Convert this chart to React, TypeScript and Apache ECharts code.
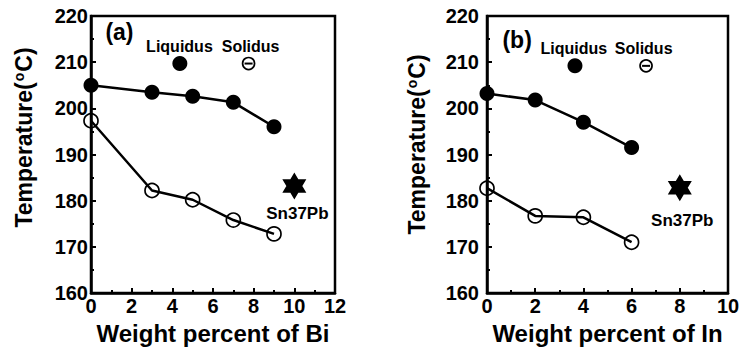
import React, { useEffect, useRef } from "react";
import * as echarts from "echarts";

// Panel (a): Bi
const biX = [0, 3, 5, 7, 9];
const biLiquidus = [205, 203.5, 202.6, 201.3, 196];
const biSolidus = [197.3, 182.2, 180.2, 175.8, 172.8];
const biStar = [10, 183.2];
// Panel (b): In
const inX = [0, 2, 4, 6];
const inLiquidus = [203.2, 201.8, 197, 191.5];
const inSolidus = [182.7, 176.7, 176.4, 171];
const inStar = [8, 182.8];

// annotation anchors (data coords)
const annotA = {
  tag: [1.4, 216.6],
  liqText: [4.35, 213.4],
  solText: [7.85, 213.4],
  liqMark: [4.37, 209.7],
  solMark: [7.75, 209.7],
  pbText: [10.15, 177.2],
};
const annotB = {
  tag: [1.25, 214.9],
  liqText: [3.6, 213.0],
  solText: [6.5, 213.0],
  liqMark: [3.65, 209.2],
  solMark: [6.6, 209.2],
  pbText: [8.1, 175.8],
};

const FONT = "'Liberation Sans', Arial, Helvetica, sans-serif";
const STAR =
  "path://M0,-10 L8.66,5 L-8.66,5 Z M0,10 L-8.66,-5 L8.66,-5 Z";

function xAxis(gridIndex: number, max: number, name: string) {
  return {
    type: "value",
    gridIndex,
    min: 0,
    max,
    interval: 2,
    name,
    nameLocation: "middle",
    nameGap: 28,
    nameTextStyle: { fontSize: 24, fontWeight: "bold", color: "#000", fontFamily: FONT },
    axisLine: { show: true, lineStyle: { color: "#000", width: 2.5 } },
    axisTick: { show: true, inside: true, length: 5, lineStyle: { color: "#000", width: 2 } },
    minorTick: { show: true, splitNumber: 2, length: 3, lineStyle: { color: "#000", width: 2 } },
    splitLine: { show: false },
    axisLabel: { fontSize: 20, fontWeight: "bold", color: "#000", margin: 3, fontFamily: FONT },
  };
}

function yAxis(gridIndex: number, margin: number, nameGap: number, shift: number) {
  return {
    type: "value",
    gridIndex,
    min: 160,
    max: 220,
    interval: 10,
    name: "{t|Temperature(}{s|o}{t|C)}",
    nameLocation: "middle",
    nameGap,
    nameRotate: 90,
    nameTextStyle: {
      padding: [0, 0, 0, shift],
      rich: {
        t: { fontSize: 23, fontWeight: "bold", color: "#000", fontFamily: FONT },
        s: { fontSize: 14, fontWeight: "bold", color: "#000", fontFamily: FONT, verticalAlign: "top", padding: [0, 1, 10, 1] },
      },
    },
    axisLine: { show: true, lineStyle: { color: "#000", width: 2.5 } },
    axisTick: { show: true, inside: true, length: 5, lineStyle: { color: "#000", width: 2 } },
    minorTick: { show: true, splitNumber: 2, length: 3, lineStyle: { color: "#000", width: 2 } },
    splitLine: { show: false },
    axisLabel: { fontSize: 20, fontWeight: "bold", color: "#000", margin, fontFamily: FONT },
  };
}

function panelSeries(
  idx: number,
  xs: number[],
  liq: number[],
  sol: number[],
  star: number[],
  an: any,
  tag: string
) {
  const base = { xAxisIndex: idx, yAxisIndex: idx, silent: true };
  const textSeries = (pt: number[], text: string, size: number) => ({
    ...base,
    type: "scatter",
    symbolSize: 0,
    data: [pt],
    itemStyle: { opacity: 1 },
    label: {
      show: true,
      position: "inside",
      formatter: text,
      fontSize: size,
      fontWeight: "bold",
      color: "#000",
      opacity: 1,
      fontFamily: FONT,
    },
    z: 5,
  });
  return [
    {
      ...base,
      type: "line",
      data: xs.map((x, i) => [x, liq[i]]),
      symbol: "circle",
      symbolSize: 15,
      lineStyle: { color: "#000", width: 2.5 },
      itemStyle: { color: "#000" },
      z: 3,
    },
    {
      ...base,
      type: "line",
      data: xs.map((x, i) => [x, sol[i]]),
      symbol: "circle",
      symbolSize: 14,
      lineStyle: { color: "#000", width: 2.5 },
      itemStyle: { color: "rgba(0,0,0,0)", borderColor: "#000", borderWidth: 1.7 },
      z: 3,
    },
    {
      ...base,
      type: "scatter",
      data: [star],
      symbol: STAR,
      symbolSize: [24, 27],
      itemStyle: { color: "#000", opacity: 1 },
    },
    {
      ...base,
      type: "scatter",
      data: [an.liqMark],
      symbol: "circle",
      symbolSize: 15,
      itemStyle: { color: "#000", opacity: 1 },
    },
    {
      ...base,
      type: "scatter",
      data: [an.solMark],
      symbol: "circle",
      symbolSize: 12,
      itemStyle: { color: "rgba(0,0,0,0)", borderColor: "#000", borderWidth: 1.7, opacity: 1 },
    },
    {
      ...base,
      type: "scatter",
      data: [an.solMark],
      symbol: "rect",
      symbolSize: [8, 2],
      itemStyle: { color: "#000", opacity: 1 },
    },
    textSeries(an.tag, tag, 23),
    textSeries(an.liqText, "Liquidus", 16),
    textSeries(an.solText, "Solidus", 16),
    textSeries(an.pbText, "Sn37Pb", 17),
  ];
}

export default function App() {
  const ref = useRef<HTMLDivElement>(null);
  useEffect(() => {
    if (!ref.current) return;
    const chart = echarts.init(ref.current, null, { renderer: "svg" });
    chart.setOption({
      animation: false,
      backgroundColor: "#fff",
      grid: [
        { left: 91, top: 16, width: 244, height: 277, show: true, borderColor: "#000", borderWidth: 2.5 },
        { left: 487, top: 16, width: 241, height: 277, show: true, borderColor: "#000", borderWidth: 2.5 },
      ],
      xAxis: [xAxis(0, 12, "Weight percent of Bi"), xAxis(1, 10, "Weight percent of In")],
      yAxis: [yAxis(0, 3, 55, 34), yAxis(1, 8, 58, 20)],
      series: [
        ...panelSeries(0, biX, biLiquidus, biSolidus, biStar, annotA, "(a)"),
        ...panelSeries(1, inX, inLiquidus, inSolidus, inStar, annotB, "(b)"),
      ],
    });
    return () => chart.dispose();
  }, []);
  return (
    <div
      ref={ref}
      style={{ position: "fixed", left: 0, top: 0, width: 743, height: 354, background: "#fff" }}
    />
  );
}
